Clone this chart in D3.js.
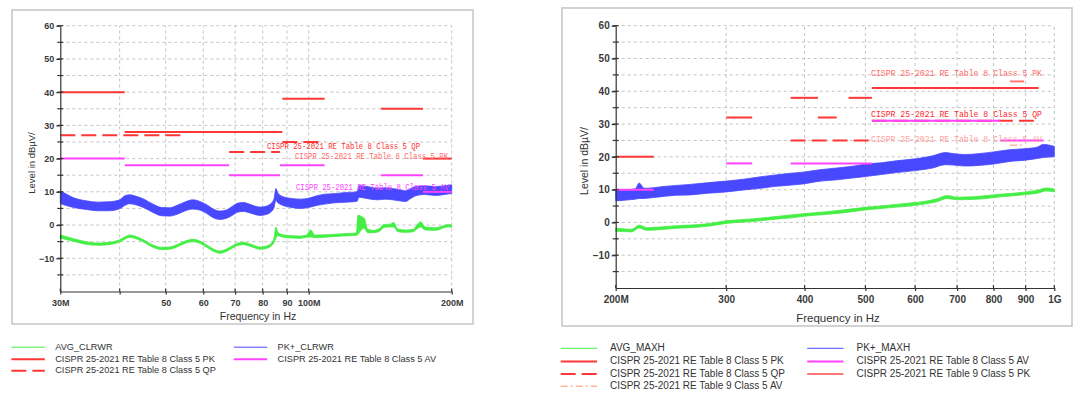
<!DOCTYPE html>
<html lang="en">
<head>
<meta charset="utf-8">
<title>CISPR 25 radiated emission scans</title>
<script src="https://d3js.org/d3.v7.min.js"></script>
<style>
  body { margin: 0; background: #fff; }
  svg { display: block; font-family: "Liberation Sans", Arial, sans-serif; }
  .axis path, .axis line { stroke: #333; stroke-width: 1.2; }
  .axis text { fill: #3a3a3a; font-weight: bold; }
  .grid { stroke: #c4c4c4; stroke-dasharray: 3,3; stroke-width: 1; }
</style>
</head>
<body>
<svg id="chart" width="1080" height="398"></svg>
<script>
// ---------- left scan: 30M - 200M ----------
var leftPkFreq = [30, 31, 32, 34, 36, 38, 40, 41, 42, 43, 45, 47, 49, 51, 53, 55, 57, 59, 61, 63, 65, 67, 69, 71, 73, 75, 77, 79, 81, 83, 84.5, 85.3, 86, 87, 89, 92, 96, 100, 104, 108, 112, 116, 120, 124, 126.5, 127.5, 130, 135, 140, 145, 150, 155, 160, 164, 168, 175, 185, 195, 200];
var leftPkHi = [10.3, 9.2, 8.2, 7.3, 6.9, 7.0, 7.6, 8.8, 9.1, 8.8, 7.8, 6.3, 5.3, 5.2, 6.0, 7.0, 7.6, 7.1, 6.1, 4.8, 4.2, 4.5, 5.6, 6.6, 6.8, 6.3, 5.7, 5.4, 5.6, 6.3, 7.8, 11.0, 9.8, 9.0, 8.4, 8.0, 7.8, 8.1, 8.8, 9.3, 9.4, 9.6, 9.8, 9.9, 10.0, 11.8, 11.8, 11.4, 11.1, 11.2, 11.0, 10.7, 10.3, 11.0, 11.6, 11.8, 11.6, 11.9, 12.1];
var leftPkLo = [6.5, 5.8, 5.3, 4.7, 4.3, 4.3, 4.9, 5.9, 6.4, 6.2, 5.2, 3.8, 2.8, 2.7, 3.3, 4.3, 4.8, 4.5, 3.5, 2.2, 1.7, 2.0, 2.9, 3.9, 4.1, 3.7, 3.2, 2.9, 3.1, 3.8, 5.2, 7.5, 6.8, 6.3, 5.7, 5.3, 5.0, 5.3, 5.9, 6.3, 6.6, 6.8, 6.9, 7.0, 7.2, 8.4, 8.2, 7.8, 7.6, 7.8, 7.6, 7.3, 7.1, 8.0, 8.8, 9.2, 8.9, 9.3, 9.5];

var leftAvgFreq = [30, 32, 34, 36, 38, 40, 41, 42, 43, 45, 47, 49, 51, 53, 55, 57, 59, 61, 63, 65, 67, 69, 71, 73, 75, 77, 79, 81, 83, 84.5, 85.3, 86, 88, 92, 96, 99, 101, 103, 110, 118, 126, 127, 129, 131, 133, 137, 141, 144, 148, 151, 154, 160, 166, 169, 172, 176, 185, 192, 197, 200];
var leftAvgHi = [-3.0, -4.1, -5.0, -5.4, -5.2, -4.4, -3.6, -3.0, -3.3, -4.5, -6.0, -6.7, -6.6, -5.8, -4.8, -4.3, -4.8, -6.0, -7.2, -7.8, -7.3, -6.3, -5.4, -5.2, -5.6, -6.2, -6.6, -6.4, -5.8, -4.0, -0.6, -2.0, -2.9, -3.2, -3.3, -3.0, -1.5, -3.0, -2.9, -2.6, -2.4, 3.0, 2.6, 2.0, -1.2, -1.6, -1.0, 0.2, 0.2, 0.8, -1.2, -1.5, -1.3, 0.0, 1.0, -0.6, -0.8, -0.2, 0.2, 0.0];
var leftAvgLo = [-3.9, -4.9, -5.8, -6.1, -5.9, -5.1, -4.3, -3.7, -4.0, -5.2, -6.7, -7.4, -7.3, -6.5, -5.5, -5.0, -5.5, -6.7, -7.9, -8.5, -8.0, -7.0, -6.1, -5.9, -6.3, -6.9, -7.3, -7.1, -6.5, -5.3, -4.0, -3.2, -3.6, -3.9, -4.0, -3.7, -3.6, -3.8, -3.6, -3.3, -3.1, -2.8, -1.5, -1.0, -2.3, -2.3, -1.9, -0.7, -0.6, -0.6, -2.0, -2.2, -2.0, -1.2, -0.6, -1.5, -1.6, -0.9, -0.5, -0.7];

// limit segments: [start MHz, stop MHz, level dBuV]
var leftLimitPK = [[30, 41, 40], [41, 88, 28], [88, 108, 38], [142, 174, 35], [174, 200, 20]];
var leftLimitQP = [[30, 54, 27], [68, 87, 22], [88, 108, 25]];
var leftLimitAV = [[30, 41, 20], [41, 68, 18], [68, 87, 15], [87, 108, 18], [142, 174, 15], [174, 200, 10]];

var leftTickVals = [30, 40, 50, 60, 70, 80, 90, 100, 200];
var leftTickText = ["30M", "", "50", "60", "70", "80", "90", "100M", "200M"];

// ---------- right scan: 200M - 1G ----------
var rightPkFreq = [200, 205, 210, 215, 218, 222, 230, 240, 250, 263, 280, 300, 320, 340, 360, 381, 400, 420, 450, 480, 500, 530, 560, 600, 640, 670, 690, 720, 760, 800, 850, 900, 940, 960, 1000];
var rightPkHi = [10.0, 9.8, 10.0, 10.3, 12.0, 10.4, 10.6, 11.0, 11.3, 11.6, 12.1, 12.6, 13.2, 13.9, 14.5, 15.0, 15.4, 16.0, 16.6, 17.2, 17.8, 18.2, 18.8, 19.4, 20.3, 21.3, 21.0, 20.7, 21.0, 21.5, 22.2, 22.5, 23.0, 23.8, 23.2];
var rightPkLo = [6.6, 6.7, 6.9, 7.1, 7.3, 7.3, 7.6, 8.0, 8.3, 8.4, 8.9, 9.3, 9.9, 10.4, 11.0, 11.4, 11.8, 12.5, 13.0, 13.6, 14.0, 14.6, 15.2, 15.8, 16.6, 17.6, 17.5, 17.2, 17.4, 17.8, 18.6, 19.0, 19.5, 19.8, 20.0];

var rightAvgFreq = [200, 207, 212, 218, 224, 235, 250, 263, 280, 300, 320, 340, 360, 381, 400, 430, 460, 500, 540, 580, 620, 650, 675, 700, 740, 780, 820, 860, 900, 940, 970, 1000];
var rightAvgHi = [-1.8, -2.0, -2.1, -0.8, -1.6, -1.4, -1.0, -0.8, -0.4, 0.5, 0.9, 1.3, 1.8, 2.3, 2.7, 3.2, 3.8, 4.6, 5.2, 5.8, 6.4, 7.2, 8.2, 7.7, 7.8, 8.2, 8.6, 8.9, 9.3, 9.8, 10.5, 10.2];
var rightAvgLo = [-2.7, -2.8, -2.9, -1.7, -2.4, -2.2, -1.8, -1.6, -1.2, -0.3, 0.1, 0.5, 1.0, 1.4, 1.9, 2.4, 2.9, 3.8, 4.4, 4.9, 5.6, 6.3, 7.3, 6.9, 7.0, 7.3, 7.8, 8.1, 8.5, 8.9, 9.6, 9.3];

var rightLimitPK = [[200, 230, 20], [300, 330, 32], [380, 420, 38], [420, 450, 32], [470, 512, 38], [512, 944, 41]];
var rightLimitQP = [[380, 512, 25], [512, 944, 31]];
var rightLimitAV = [[200, 230, 10], [300, 330, 18], [380, 512, 18], [512, 820, 31], [820, 960, 25]];
var rightLimit9PK = [[850, 895, 43]];
var rightLimit9AV = [[850, 895, 23.5]];

var rightTickVals = [200, 300, 400, 500, 600, 700, 800, 900, 1000];
var rightTickText = ["200M", "300", "400", "500", "600", "700", "800", "900", "1G"];

var yMajor = [-10, 0, 10, 20, 30, 40, 50, 60];
var yMinor = [-15, -5, 5, 15, 25, 35, 45, 55];

var nameT8PK = "CISPR 25-2021 RE Table 8 Class 5 PK";
var nameT8QP = "CISPR 25-2021 RE Table 8 Class 5 QP";
var nameT8AV = "CISPR 25-2021 RE Table 8 Class 5 AV";
var nameT9PK = "CISPR 25-2021 RE Table 9 Class 5 PK";
var nameT9AV = "CISPR 25-2021 RE Table 9 Class 5 AV";

// line styles per series
var styles = {
  avg:  { color: "#44ee44", width: 1, dash: null },
  pk:   { color: "#4848ff", width: 1, dash: null },
  t8pk: { color: "#ff3636", width: 2, dash: null },
  t8qp: { color: "#ff3636", width: 2, dash: "15,6" },
  t8av: { color: "#ff44ff", width: 2, dash: null },
  t9pk: { color: "#ff7878", width: 2, dash: null },
  t9av: { color: "#ffb49c", width: 1.5, dash: "7,3,2,3" }
};

var svg = d3.select("#chart");
svg.append("rect").attr("width", 1080).attr("height", 398).attr("fill", "#fff");

function zip(f, hi, lo) {
  return f.map(function(v, i) { return { f: v, hi: hi[i], lo: lo[i] }; });
}

function drawPanel(p) {
  var g = svg.append("g");
  g.append("rect")
    .attr("x", p.box[0]).attr("y", p.box[1])
    .attr("width", p.box[2]).attr("height", p.box[3])
    .attr("fill", "none").attr("stroke", "#c8c8c8").attr("stroke-width", 1.6);

  var x = d3.scaleLog().domain(p.xDomain).range(p.xRange);
  var y = d3.scaleLinear().domain([-20, 60]).range(p.yRange);
  var x0 = p.xRange[0], x1 = p.xRange[1], yb = p.yRange[0], yt = p.yRange[1];

  // dashed grid
  g.selectAll(".hg").data(yMajor.concat(yMinor)).enter().append("line")
    .attr("class", "grid")
    .attr("x1", x0).attr("x2", x1)
    .attr("y1", function(d) { return y(d); }).attr("y2", function(d) { return y(d); });
  g.selectAll(".vg").data(p.ticks.slice(1)).enter().append("line")
    .attr("class", "grid")
    .attr("x1", function(d) { return x(d); }).attr("x2", function(d) { return x(d); })
    .attr("y1", yb).attr("y2", yt);

  // measured traces (drawn as the band the noisy sweep covers)
  var band = d3.area()
    .x(function(d) { return x(d.f); })
    .y0(function(d) { return y(d.lo); })
    .y1(function(d) { return y(d.hi); })
    .curve(d3.curveMonotoneX);
  g.append("path").datum(p.avg).attr("d", band)
    .attr("fill", styles.avg.color).attr("stroke", styles.avg.color).attr("stroke-width", 0.8);
  g.append("path").datum(p.pk).attr("d", band)
    .attr("fill", styles.pk.color).attr("stroke", styles.pk.color).attr("stroke-width", 0.8);

  // limit lines
  p.limits.forEach(function(L) {
    var st = styles[L.key];
    g.selectAll(null).data(L.segs).enter().append("line")
      .attr("x1", function(d) { return x(d[0]); })
      .attr("x2", function(d) { return x(d[1]); })
      .attr("y1", function(d) { return y(d[2]); })
      .attr("y2", function(d) { return y(d[2]); })
      .attr("stroke", st.color).attr("stroke-width", st.width)
      .attr("stroke-dasharray", st.dash);
  });

  // axes
  g.append("g").attr("class", "axis")
    .attr("transform", "translate(" + x0 + ",0)")
    .style("font-size", p.tickFont + "px")
    .call(d3.axisLeft(y).tickValues(yMajor).tickSize(4).tickSizeOuter(0).tickPadding(2));
  g.selectAll(".ymin").data(yMajor.concat(yMinor)).enter().append("line")
    .attr("x1", x0 - 3).attr("x2", x0 + 3)
    .attr("y1", function(d) { return y(d); }).attr("y2", function(d) { return y(d); })
    .attr("stroke", "#333").attr("stroke-width", 1.2);

  g.append("g").attr("class", "axis")
    .attr("transform", "translate(0," + yb + ")")
    .style("font-size", p.tickFont + "px")
    .call(d3.axisBottom(x).tickValues(p.ticks).tickSize(3).tickSizeOuter(0).tickPadding(5)
      .tickFormat(function(d, i) { return p.tickText[i]; }));
  g.selectAll(".xup").data(p.ticks).enter().append("line")
    .attr("x1", function(d) { return x(d); }).attr("x2", function(d) { return x(d); })
    .attr("y1", yb - 3).attr("y2", yb)
    .attr("stroke", "#333").attr("stroke-width", 1.2);

  g.append("text")
    .attr("transform", "translate(" + p.yTitle[0] + "," + p.yTitle[1] + ") rotate(-90)")
    .attr("text-anchor", "middle").attr("dominant-baseline", "middle")
    .style("font-size", p.titleFont - 1 + "px").attr("fill", "#333")
    .text("Level in dBµV/");
  g.append("text")
    .attr("x", p.xTitle[0]).attr("y", p.xTitle[1])
    .attr("text-anchor", "middle").attr("dominant-baseline", "middle")
    .style("font-size", p.titleFont + "px").attr("fill", "#333")
    .text("Frequency in Hz");

  // limit labels in the plot
  g.selectAll(null).data(p.marks).enter().append("text")
    .attr("x", function(d) { return d.x; }).attr("y", function(d) { return d.y; })
    .attr("textLength", p.markWidth).attr("lengthAdjust", "spacingAndGlyphs")
    .style("font-family", "'Liberation Mono', 'DejaVu Sans Mono', monospace")
    .style("font-size", "8.5px")
    .attr("fill", function(d) { return d.color; })
    .text(function(d) { return d.text; });

  // legend
  var lg = g.selectAll(null).data(p.legend).enter().append("g")
    .attr("transform", function(d) {
      return "translate(" + p.legendCols[d.col] + "," + p.legendRows[d.row] + ")";
    });
  lg.append("line")
    .attr("x1", 0).attr("x2", p.legendLine)
    .attr("stroke", function(d) { return styles[d.key].color; })
    .attr("stroke-width", function(d) { return styles[d.key].width; })
    .attr("stroke-dasharray", function(d) { return styles[d.key].dash; });
  lg.append("text")
    .attr("x", p.legendGap).attr("dominant-baseline", "middle")
    .style("font-size", p.legendFont + "px").attr("fill", "#333")
    .text(function(d) { return d.name; });
}

drawPanel({
  box: [12, 10, 461, 314],
  xDomain: [30, 200], xRange: [60.3, 451.7], yRange: [291.5, 25.7],
  ticks: leftTickVals, tickText: leftTickText, tickFont: 9,
  avg: zip(leftAvgFreq, leftAvgHi, leftAvgLo),
  pk: zip(leftPkFreq, leftPkHi, leftPkLo),
  limits: [
    { key: "t8pk", segs: leftLimitPK },
    { key: "t8qp", segs: leftLimitQP },
    { key: "t8av", segs: leftLimitAV }
  ],
  yTitle: [32, 163], xTitle: [258, 317], titleFont: 10.5,
  markWidth: 153,
  marks: [
    { text: nameT8QP, x: 267, y: 148.5, color: "#ff3030" },
    { text: nameT8PK, x: 295, y: 158.5, color: "#ff6b6b" },
    { text: nameT8AV, x: 296, y: 190, color: "#ff44ff" }
  ],
  legendCols: [11.4, 233.8], legendRows: [347.2, 359.3, 370.7],
  legendLine: 33.4, legendGap: 43.8, legendFont: 9.2,
  legend: [
    { name: "AVG_CLRWR", key: "avg", col: 0, row: 0 },
    { name: nameT8PK, key: "t8pk", col: 0, row: 1 },
    { name: nameT8QP, key: "t8qp", col: 0, row: 2 },
    { name: "PK+_CLRWR", key: "pk", col: 1, row: 0 },
    { name: nameT8AV, key: "t8av", col: 1, row: 1 }
  ]
});

drawPanel({
  box: [562, 8, 510, 318],
  xDomain: [200, 1000], xRange: [615.7, 1054.3], yRange: [288, 25.7],
  ticks: rightTickVals, tickText: rightTickText, tickFont: 10,
  avg: zip(rightAvgFreq, rightAvgHi, rightAvgLo),
  pk: zip(rightPkFreq, rightPkHi, rightPkLo),
  limits: [
    { key: "t8pk", segs: rightLimitPK },
    { key: "t8qp", segs: rightLimitQP },
    { key: "t8av", segs: rightLimitAV },
    { key: "t9pk", segs: rightLimit9PK },
    { key: "t9av", segs: rightLimit9AV }
  ],
  yTitle: [585, 161], xTitle: [838, 319], titleFont: 11.5,
  markWidth: 171,
  marks: [
    { text: nameT8PK, x: 871, y: 75.5, color: "#ff6b6b" },
    { text: nameT8QP, x: 871, y: 116.5, color: "#ff2a2a" },
    { text: nameT8AV, x: 871, y: 142, color: "#ffa0a0" }
  ],
  legendCols: [560.7, 807.2], legendRows: [348.3, 361.4, 374.1, 386.2],
  legendLine: 36.3, legendGap: 49.3, legendFont: 10,
  legend: [
    { name: "AVG_MAXH", key: "avg", col: 0, row: 0 },
    { name: nameT8PK, key: "t8pk", col: 0, row: 1 },
    { name: nameT8QP, key: "t8qp", col: 0, row: 2 },
    { name: nameT9AV, key: "t9av", col: 0, row: 3 },
    { name: "PK+_MAXH", key: "pk", col: 1, row: 0 },
    { name: nameT8AV, key: "t8av", col: 1, row: 1 },
    { name: nameT9PK, key: "t9pk", col: 1, row: 2 }
  ]
});
</script>
</body>
</html>
